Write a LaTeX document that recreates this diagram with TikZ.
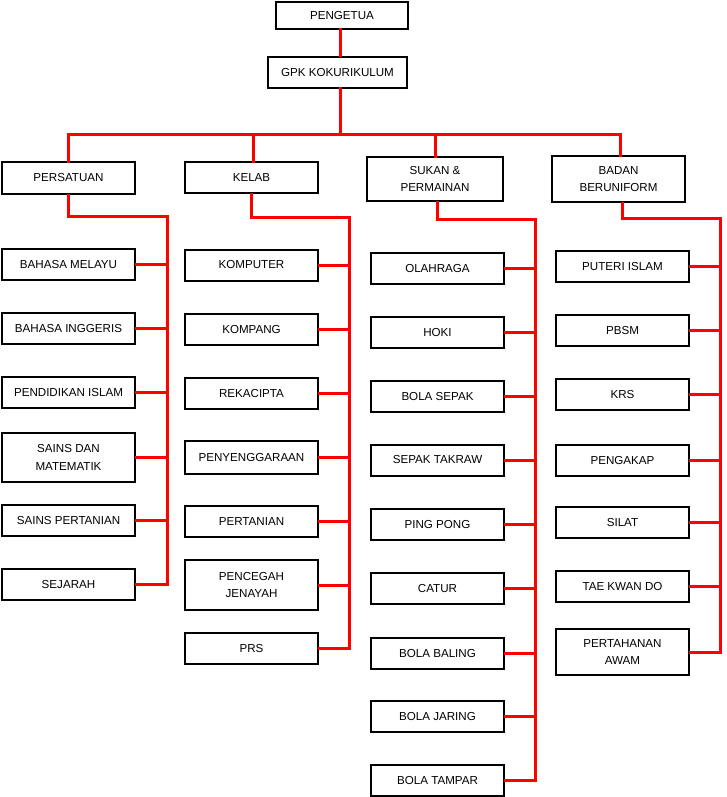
\documentclass[tikz,border=0pt]{standalone}
\usepackage{fontspec}
\setmainfont{Liberation Sans}
\begin{document}
\begin{tikzpicture}[x=1pt,y=1pt,
  box/.style={draw=black,line width=2pt,fill=white,inner sep=0pt,minimum width=133pt,minimum height=31pt,align=center,font=\fontsize{11.6}{17.5}\selectfont},
  tall/.style={minimum height=49pt},
  link/.style={draw=red,line width=3pt,line cap=rect}]
\useasboundingbox (0,0) rectangle (726,-797);
% top
\node[box,minimum width=132pt,minimum height=27pt] (pen) at (342,-15.5) {PENGETUA};
\node[box,minimum width=139pt] (gpk) at (337.5,-72.5) {GPK KOKURIKULUM};
\coordinate (spine) at (340,-134);
% categories
\node[box,minimum height=32pt] (persatuan) at (68.5,-178) {PERSATUAN};
\node[box] (kelab) at (251.5,-177.5) {KELAB};
\node[box,minimum width=136pt,minimum height=44pt] (sukan) at (435,-179) {SUKAN \&\\PERMAINAN};
\node[box,minimum height=46pt] (badan) at (618.5,-179) {BADAN\\BERUNIFORM};
% column corners
\coordinate (c1) at (167,-216);
\coordinate (c2) at (349,-217);
\coordinate (c3) at (535,-219);
\coordinate (c4) at (720,-218);
% column 1
\node[box] (a1) at (68.5,-264.5) {BAHASA MELAYU};
\node[box] (a2) at (68.5,-328.5) {BAHASA INGGERIS};
\node[box] (a3) at (68.5,-392.5) {PENDIDIKAN ISLAM};
\node[box,tall] (a4) at (68.5,-457.5) {SAINS DAN\\MATEMATIK};
\node[box] (a5) at (68.5,-520.5) {SAINS PERTANIAN};
\node[box] (a6) at (68.5,-584.5) {SEJARAH};
% column 2
\node[box] (b1) at (251.5,-265) {KOMPUTER};
\node[box] (b2) at (251.5,-329.5) {KOMPANG};
\node[box] (b3) at (251.5,-393.5) {REKACIPTA};
\node[box,minimum height=33pt] (b4) at (251.5,-457.5) {PENYENGGARAAN};
\node[box] (b5) at (251.5,-521.5) {PERTANIAN};
\node[box,minimum height=50pt] (b6) at (251.5,-585) {PENCEGAH\\JENAYAH};
\node[box] (b7) at (251.5,-648.5) {PRS};
% column 3
\node[box] (s1) at (437.5,-268.5) {OLAHRAGA};
\node[box] (s2) at (437.5,-332.5) {HOKI};
\node[box] (s3) at (437.5,-396.5) {BOLA SEPAK};
\node[box] (s4) at (437.5,-460) {SEPAK TAKRAW};
\node[box] (s5) at (437.5,-524.5) {PING PONG};
\node[box] (s6) at (437.5,-588.5) {CATUR};
\node[box] (s7) at (437.5,-653.5) {BOLA BALING};
\node[box] (s8) at (437.5,-716.5) {BOLA JARING};
\node[box] (s9) at (437.5,-780.5) {BOLA TAMPAR};
% column 4
\node[box] (u1) at (622.5,-266.5) {PUTERI ISLAM};
\node[box] (u2) at (622.5,-330.5) {PBSM};
\node[box] (u3) at (622.5,-394.5) {KRS};
\node[box] (u4) at (622.5,-460.5) {PENGAKAP};
\node[box] (u5) at (622.5,-522.5) {SILAT};
\node[box] (u6) at (622.5,-586.5) {TAE KWAN DO};
\node[box,minimum height=46pt] (u7) at (622.5,-652) {PERTAHANAN\\AWAM};
% top connectors
\draw[link] (pen.south -| spine) -- (gpk.north -| spine);
\draw[link] (gpk.south -| spine) -- (spine);
\draw[link] (persatuan.north) -- (persatuan.north |- spine) -- ([xshift=1.5pt]badan.north |- spine) -- ([xshift=1.5pt]badan.north);
\draw[link] ([xshift=1.5pt]kelab.north |- spine) -- ([xshift=1.5pt]kelab.north);
\draw[link] (sukan.north |- spine) -- (sukan.north);
% column trunks
\draw[link] (persatuan.south) -- (persatuan.south |- c1) -- (c1) -- (c1 |- a6.east);
\draw[link] (kelab.south) -- (kelab.south |- c2) -- (c2) -- (c2 |- b7.east);
\draw[link] ([xshift=2pt]sukan.south) -- ([xshift=2pt]sukan.south |- c3) -- (c3) -- (c3 |- s9.east);
\draw[link] ([xshift=3.5pt]badan.south) -- ([xshift=3.5pt]badan.south |- c4) -- (c4) -- (c4 |- u7.east);
% leaves
\foreach \n in {a1,a2,a3,a4,a5,a6} \draw[link] (\n.east) -- (\n.east -| c1);
\foreach \n in {b1,b2,b3,b4,b5,b6,b7} \draw[link] (\n.east) -- (\n.east -| c2);
\foreach \n in {s1,s2,s3,s4,s5,s6,s7,s8,s9} \draw[link] (\n.east) -- (\n.east -| c3);
\foreach \n in {u1,u2,u3,u4,u5,u6,u7} \draw[link] (\n.east) -- (\n.east -| c4);
\end{tikzpicture}
\end{document}
